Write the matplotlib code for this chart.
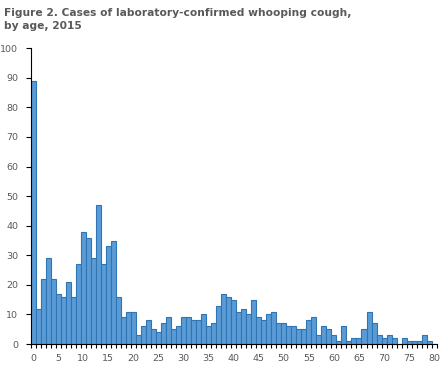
import matplotlib.pyplot as plt
import numpy as np

# cases by single year of age, 0..80
ages = list(range(0, 81))
cases = [89, 12, 22, 29, 22, 17, 16, 21, 16, 27,
         38, 36, 29, 47, 27, 33, 35, 16, 9, 11,
         11, 3, 6, 8, 5, 4, 7, 9, 5, 6,
         9, 9, 8, 8, 10, 6, 7, 13, 17, 16,
         15, 11, 12, 10, 15, 9, 8, 10, 11, 7,
         7, 6, 6, 5, 5, 8, 9, 3, 6, 5,
         3, 1, 6, 1, 2, 2, 5, 11, 7, 3,
         2, 3, 2, 0, 2, 1, 1, 1, 3, 1,
         0]
xlabels = list(range(0, 81, 5))
ylabels = list(range(0, 101, 10))

title = "Figure 2. Cases of laboratory-confirmed whooping cough,\nby age, 2015"
txt_col = "#595959"

fig = plt.figure(figsize=(4.4, 3.68), dpi=100)
ax = fig.add_axes([0.0695, 0.065, 0.923, 0.804])

ax.bar(ages, cases, width=1.0, color="#5B9BD5", edgecolor="#2E75B6", linewidth=0.8)

ax.set_xlim(-0.5, 80.5)
ax.set_ylim(0, 100)

ax.set_xticks(xlabels)
ax.set_xticklabels([str(v) for v in xlabels])
ax.set_xticks(np.arange(-0.5, 81, 1), minor=True)
ax.tick_params(axis="x", which="major", length=0, pad=7, labelsize=6.8, labelcolor=txt_col)
ax.tick_params(axis="x", which="minor", length=3, width=0.8, direction="out", color="black")

ax.set_yticks(ylabels)
ax.tick_params(axis="y", length=3.5, width=0.8, pad=5.5, labelsize=6.8, labelcolor=txt_col, color="black")

for s in ["top", "right"]:
    ax.spines[s].set_visible(False)
for s in ["left", "bottom"]:
    ax.spines[s].set_linewidth(0.8)
    ax.spines[s].set_color("black")

fig.text(0.008, 0.977, title, ha="left", va="top", fontsize=7.7,
         fontweight="bold", color=txt_col, linespacing=1.3)

fig.savefig("out.png", dpi=100)
